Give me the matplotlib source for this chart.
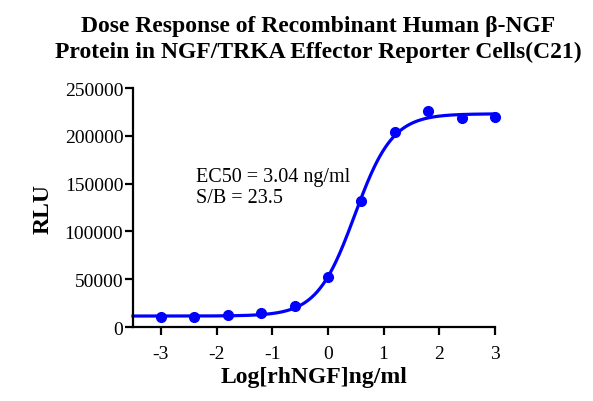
import numpy as np
import matplotlib
matplotlib.use("Agg")
import matplotlib.pyplot as plt

plt.rcParams['font.family'] = ['Liberation Serif', 'DejaVu Serif']

log_dose = [-3.0, -2.4, -1.8, -1.2, -0.6, 0.0, 0.6, 1.2, 1.8, 2.4, 3.0]
rlu = [10000, 10800, 12500, 14600, 22000, 52600, 131800, 203500, 226300, 218600, 219300]

# fitted 4PL parameters
fit_bottom = 11500
fit_top = 223000
fit_ec50 = 3.04
fit_hill = 1.28

x_ticks = [-3, -2, -1, 0, 1, 2, 3]
y_ticks = [0, 50000, 100000, 150000, 200000, 250000]

title_lines = ['Dose Response of Recombinant Human β-NGF',
               'Protein in NGF/TRKA Effector Reporter Cells(C21)']
annot_lines = ['EC50 = 3.04 ng/ml', 'S/B = 23.5']

fig = plt.figure(figsize=(5.93, 4.02), dpi=100)
ax = fig.add_axes([0.2243, 0.184, 0.6104, 0.5946])

xc = np.linspace(-3.5, 3.0, 400)
yc = fit_bottom + (fit_top - fit_bottom) / (1 + 10 ** ((np.log10(fit_ec50) - xc) * fit_hill))
ax.plot(xc, yc, color='#0000FF', lw=2.3, zorder=2, clip_on=False)
ax.plot(log_dose, rlu, 'o', color='#0000FF', ms=7, zorder=3, clip_on=False)

ax.set_xlim(-3.5, 3.0)
ax.set_ylim(0, 250000)
ax.set_xticks(x_ticks)
ax.set_xticklabels([str(t) for t in x_ticks])
ax.set_yticks(y_ticks)
ax.set_yticklabels([str(t) for t in y_ticks])

for s in ['top', 'right']:
    ax.spines[s].set_visible(False)
for s in ['left', 'bottom']:
    ax.spines[s].set_linewidth(1.6)
ax.tick_params(axis='both', direction='out', length=6, width=1.6, labelsize=14, pad=1)
ax.tick_params(axis='x', pad=7)

ax.set_xlabel('Log[rhNGF]ng/ml', fontsize=17, fontweight='bold', labelpad=3)
ax.set_ylabel('RLU', fontsize=17, fontweight='bold', labelpad=8)

ax.text(-2.365, 153000, annot_lines[0], fontsize=14.5, va='baseline', ha='left')
ax.text(-2.365, 131000, annot_lines[1], fontsize=14.5, va='baseline', ha='left')

fig.text(0.536, 0.9204, title_lines[0], fontsize=17, fontweight='bold', ha='center', va='baseline')
fig.text(0.536, 0.8557, title_lines[1], fontsize=17, fontweight='bold', ha='center', va='baseline')

fig.savefig('out.png', dpi=100)
